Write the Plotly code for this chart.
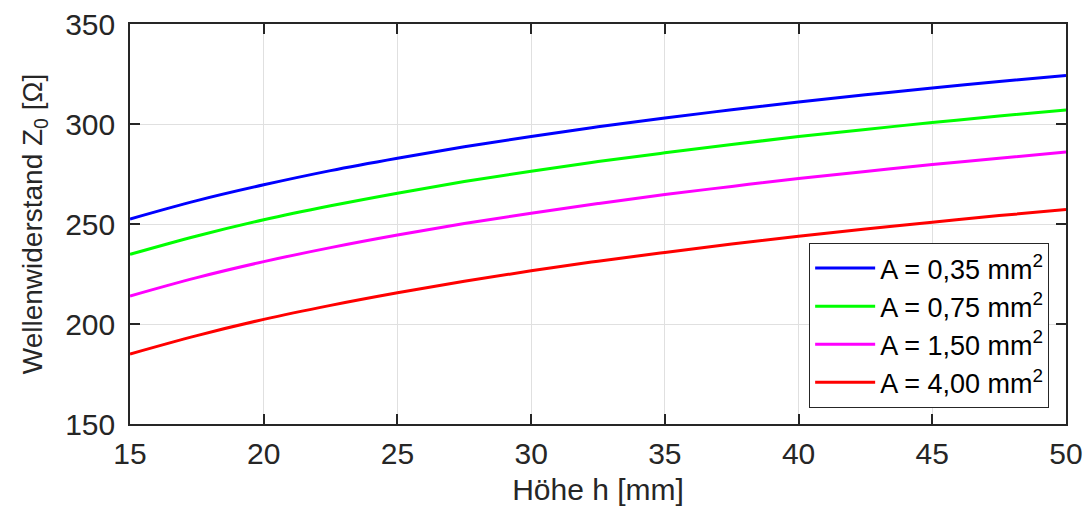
import plotly.graph_objects as go

hoehe = [15, 17.5, 20, 22.5, 25, 27.5, 30, 32.5, 35, 37.5, 40, 42.5, 45, 47.5, 50]
z_035 = [252.5, 261.7, 269.6, 276.7, 282.9, 288.6, 293.8, 298.6, 303.0, 307.1, 311.0, 314.6, 318.0, 321.2, 324.3]
z_075 = [234.8, 244.0, 252.1, 259.1, 265.4, 271.2, 276.4, 281.2, 285.6, 289.8, 293.7, 297.3, 300.7, 304.0, 307.0]
z_150 = [214.0, 223.2, 231.2, 238.2, 244.5, 250.2, 255.4, 260.2, 264.7, 268.8, 272.7, 276.3, 279.7, 282.9, 286.0]
z_400 = [185.0, 194.2, 202.3, 209.3, 215.6, 221.4, 226.6, 231.4, 235.8, 240.0, 243.9, 247.5, 250.9, 254.2, 257.2]
labels = ["A = 0,35 mm<sup>2</sup>", "A = 0,75 mm<sup>2</sup>",
          "A = 1,50 mm<sup>2</sup>", "A = 4,00 mm<sup>2</sup>"]
colors = ["#0000ff", "#00ff00", "#ff00ff", "#ff0000"]
x_ticks = [15, 20, 25, 30, 35, 40, 45, 50]
y_ticks = [150, 200, 250, 300, 350]

fig = go.Figure()
for ys, lab, c in zip([z_035, z_075, z_150, z_400], labels, colors):
    fig.add_trace(go.Scatter(x=hoehe, y=ys, mode="lines", name=lab,
                             line=dict(color=c, width=3, shape="spline", smoothing=1.0)))

font_family = "Arial, 'Liberation Sans', sans-serif"
axis_common = dict(showline=True, linecolor="#262626", linewidth=1.5, mirror="ticks",
                   ticks="inside", ticklen=10, tickwidth=1.5, tickcolor="#262626",
                   showgrid=True, gridcolor="#e0e0e0", gridwidth=1, zeroline=False,
                   automargin=False,
                   tickfont=dict(size=30, color="#262626", family=font_family))
fig.update_layout(
    width=1086, height=509,
    margin=dict(l=130, r=20, t=24, b=85),
    paper_bgcolor="white", plot_bgcolor="white",
    font=dict(family=font_family, color="#262626"),
    xaxis=dict(range=[15, 50], tickvals=x_ticks,
               title=dict(text="Höhe h [mm]", font=dict(size=30, color="#262626", family=font_family), standoff=10),
               ticklabelstandoff=2, **axis_common),
    yaxis=dict(range=[150, 350], tickvals=y_ticks,
               title=dict(text="Wellenwiderstand Z<sub>0</sub> [Ω]", font=dict(size=28, color="#262626", family=font_family), standoff=14),
               ticklabelstandoff=7, **axis_common),
    legend=dict(x=0.982, y=0.04, xanchor="right", yanchor="bottom",
                bgcolor="white", bordercolor="#262626", borderwidth=1,
                font=dict(size=27, color="#000000", family=font_family),
                itemwidth=60, tracegroupgap=0),
    showlegend=True,
)
fig.write_html("out.html", config={"displayModeBar": False},
               post_script="document.body.style.margin='0';document.body.style.padding='0';")
